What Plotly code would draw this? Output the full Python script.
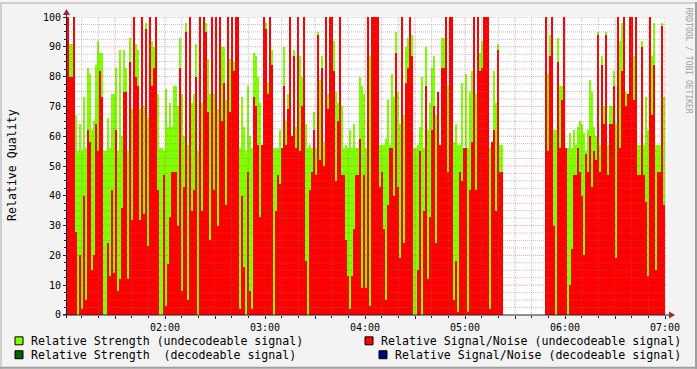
import plotly.graph_objects as go
import pandas as pd

# ---------------- data ----------------
# segment 1: 01:01:12 .. 05:22:48, one value per 72 s
green1 = [64, 91, 91, 100, 67, 55, 64, 55, 73, 56, 83, 81, 62, 65, 84, 92, 88, 88, 55, 55,
          66, 56, 74, 74, 83, 55, 89, 60, 89, 83, 55, 93, 69, 100, 91, 89, 69, 100, 70, 98,
          66, 100, 92, 90, 100, 74, 56, 56, 55, 76, 63, 71, 63, 77, 77, 70, 93, 74, 60, 98,
          57, 100, 71, 74, 91, 55, 100, 71, 100, 98, 86, 74, 100, 74, 100, 69, 100, 90, 90, 72,
          100, 86, 100, 85, 100, 100, 56, 73, 63, 55, 77, 60, 56, 88, 87, 80, 71, 57, 57, 98,
          78, 100, 89, 56, 56, 56, 62, 56, 90, 65, 74, 100, 60, 89, 63, 100, 87, 80, 100, 64,
          56, 57, 56, 68, 56, 95, 79, 87, 58, 77, 74, 100, 100, 92, 75, 71, 100, 70, 56, 57,
          56, 62, 56, 64, 56, 56, 80, 77, 74, 56, 100, 87, 100, 93, 100, 100, 57, 57, 57, 59,
          72, 57, 81, 73, 95, 75, 64, 100, 67, 90, 93, 100, 94, 56, 56, 57, 63, 80, 56, 90,
          62, 71, 83, 87, 67, 75, 56, 93, 93, 100, 77, 100, 100, 58, 64, 57, 57, 78, 56, 81,
          56, 75, 82, 100, 74, 100, 88, 92, 100, 100, 100, 56, 56, 82, 71, 91, 57, 57]
red1 = [100, 80, 80, 100, 28, 0, 20, 2, 40, 5, 62, 58, 15, 20, 64, 55, 82, 73, 0, 0,
        24, 13, 42, 14, 62, 8, 12, 36, 75, 75, 12, 85, 32, 100, 80, 77, 32, 100, 34, 96,
        23, 100, 77, 83, 100, 42, 0, 0, 47, 3, 17, 33, 48, 48, 48, 30, 83, 8, 43, 95,
        5, 100, 35, 42, 80, 0, 100, 35, 100, 95, 68, 25, 100, 42, 100, 30, 100, 65, 78, 37,
        100, 68, 100, 82, 100, 100, 2, 40, 16, 0, 48, 8, 2, 73, 70, 57, 33, 57, 100, 96,
        74, 100, 84, 0, 35, 47, 44, 56, 77, 57, 69, 100, 60, 87, 56, 100, 55, 70, 100, 18,
        0, 42, 48, 62, 47, 94, 52, 83, 50, 100, 69, 100, 100, 82, 45, 65, 100, 47, 47, 25,
        13, 2, 13, 29, 47, 47, 59, 9, 47, 9, 100, 3, 100, 100, 100, 100, 43, 48, 29, 5,
        37, 56, 56, 40, 88, 43, 19, 100, 24, 78, 83, 100, 87, 0, 0, 15, 55, 0, 35, 77,
        12, 33, 62, 70, 24, 75, 57, 83, 83, 100, 48, 100, 100, 5, 18, 1, 48, 45, 56, 56,
        1, 42, 58, 100, 42, 100, 82, 83, 100, 100, 100, 2, 58, 62, 35, 89, 48, 48]

# segment 2: 05:48:00 .. 07:00:00, one value per 72 s
green2 = [100, 81, 94, 100, 62, 62, 93, 77, 77, 100, 56, 56, 61, 56, 62, 57, 63, 65, 64, 61,
          55, 62, 79, 75, 63, 60, 95, 57, 87, 70, 95, 57, 70, 70, 82, 64, 100, 92, 98, 100,
          75, 74, 100, 100, 87, 100, 57, 57, 92, 57, 73, 62, 100, 87, 98, 57, 57, 57, 98, 73]
red2 = [100, 55, 87, 100, 30, 0, 85, 56, 72, 100, 56, 0, 10, 22, 47, 47, 56, 48, 40, 20,
        54, 48, 60, 43, 55, 52, 94, 48, 84, 64, 94, 47, 64, 64, 77, 19, 100, 56, 82, 100,
        70, 74, 100, 100, 72, 100, 47, 47, 90, 47, 38, 13, 100, 67, 84, 15, 48, 48, 97, 37]

y_ticks = list(range(0, 101, 10))
x_labels = ["02:00", "03:00", "04:00", "05:00", "06:00", "07:00"]

legend_items = [
    ("Relative Strength (undecodeable signal)", "#80FF00"),
    ("Relative Strength\u00a0 (decodeable signal)", "#006400"),
    ("Relative Signal/Noise (undecodeable signal)", "#FF0000"),
    ("Relative Signal/Noise (decodeable signal)", "#000080"),
]

# ---------------- build ----------------
day = "2024-01-01 "
step = pd.Timedelta(seconds=72)
start1 = pd.Timestamp(day + "01:01:12")
start2 = pd.Timestamp(day + "05:48:00")
t = [start1 + i * step for i in range(len(green1))] + \
    [start2 + i * step for i in range(len(green2))]
green = green1 + green2
red = red1 + red2

x_start = pd.Timestamp(day + "01:01:12")
x_end = pd.Timestamp(day + "07:01:12")

W, H = 697, 369
L, R, T, B = 67, 30, 15, 54
PW, PH = W - L - R, H - T - B


def px(X):
    return (X - L) / PW


def py(Y):
    return (H - B - Y) / PH


MONO = "DejaVu Sans Mono"

fig = go.Figure()
fig.add_trace(go.Bar(x=t, y=green, width=72000, offset=0,
                     marker=dict(color="#80FF00", line=dict(width=0)),
                     showlegend=False, hoverinfo="skip"))
fig.add_trace(go.Bar(x=t, y=red, width=72000, offset=0,
                     marker=dict(color="#FF0000", line=dict(width=0)),
                     showlegend=False, hoverinfo="skip"))

shapes = []
minor_c = "rgba(120,120,120,0.45)"
major_c = "rgba(210,50,50,0.45)"
# horizontal grid
for k in range(1, 41):
    v = k * 2.5
    shapes.append(dict(type="line", xref="paper", yref="y", x0=0, x1=1, y0=v, y1=v,
                       line=dict(color=major_c if k % 4 == 0 else minor_c, width=1, dash="1px,1px"),
                       layer="above"))
# vertical grid
g = pd.Timestamp(day + "01:10")
while g <= x_end:
    major = g.minute % 30 == 0
    shapes.append(dict(type="line", xref="x", yref="y", x0=g, x1=g, y0=0, y1=100,
                       line=dict(color=major_c if major else minor_c, width=1, dash="1px,1px"),
                       layer="above"))
    g += pd.Timedelta(minutes=10)

AX = "#202030"
ARROW = "#9B2C2C"
# axes lines
shapes.append(dict(type="line", xref="paper", yref="paper", x0=px(63), x1=px(670), y0=0, y1=0,
                   line=dict(color=AX, width=1), layer="above"))
shapes.append(dict(type="line", xref="paper", yref="paper", x0=px(66.5), x1=px(66.5), y0=py(318), y1=py(12),
                   line=dict(color=AX, width=1), layer="above"))
# arrows
shapes.append(dict(type="path", xref="paper", yref="paper",
                   path=f"M {px(669)},{py(311.5)} L {px(675)},{py(315)} L {px(669)},{py(318.5)} Z",
                   fillcolor=ARROW, line=dict(width=0), layer="above"))
shapes.append(dict(type="path", xref="paper", yref="paper",
                   path=f"M {px(63)},{py(13)} L {px(66.5)},{py(7)} L {px(70)},{py(13)} Z",
                   fillcolor=ARROW, line=dict(width=0), layer="above"))
# frame (bevel)
shapes.append(dict(type="rect", xref="paper", yref="paper", x0=px(0), x1=px(W), y0=py(0), y1=py(2),
                   fillcolor="#CFCFCF", line=dict(width=0), layer="above"))
shapes.append(dict(type="rect", xref="paper", yref="paper", x0=px(0), x1=px(2), y0=py(0), y1=py(H),
                   fillcolor="#CFCFCF", line=dict(width=0), layer="above"))
shapes.append(dict(type="rect", xref="paper", yref="paper", x0=px(0), x1=px(W), y0=py(H - 2), y1=py(H),
                   fillcolor="#9E9E9E", line=dict(width=0), layer="above"))
shapes.append(dict(type="rect", xref="paper", yref="paper", x0=px(W - 2), x1=px(W), y0=py(0), y1=py(H),
                   fillcolor="#9E9E9E", line=dict(width=0), layer="above"))

annotations = []
# legend
leg_pos = [(15, 341), (15, 355), (365, 341), (379, 355)]
for (label, col), (X, Yc) in zip(legend_items, leg_pos):
    shapes.append(dict(type="rect", xref="paper", yref="paper",
                       x0=px(X), x1=px(X + 8), y0=py(Yc - 4), y1=py(Yc + 4),
                       fillcolor=col, line=dict(color="#000000", width=1), layer="above"))
    annotations.append(dict(text=label, xref="paper", yref="paper", x=px(X + 15), y=py(Yc),
                            xanchor="left", yanchor="middle", showarrow=False, borderpad=0,
                            font=dict(family=MONO, size=11.6, color="#000000")))
# y title
annotations.append(dict(text="Relative Quality", xref="paper", yref="paper", x=px(12), y=py(164),
                        xanchor="center", yanchor="middle", textangle=-90, showarrow=False,
                        font=dict(family=MONO, size=11.6, color="#000000")))
# watermark
annotations.append(dict(text="RRDTOOL / TOBI OETIKER", xref="paper", yref="paper", x=px(688), y=py(59),
                        xanchor="center", yanchor="middle", textangle=90, showarrow=False,
                        font=dict(family=MONO, size=8, color="#A0A0A0")))

tickvals = []
ticktext = []
hv = pd.Timestamp(day + "01:30")
while hv <= x_end:
    tickvals.append(hv)
    ticktext.append(hv.strftime("%H:%M") if hv.minute == 0 and hv.strftime("%H:%M") in x_labels else "")
    hv += pd.Timedelta(minutes=30)

fig.update_layout(
    width=W, height=H,
    margin=dict(l=L, r=R, t=T, b=B, pad=0),
    paper_bgcolor="#F3F3F3", plot_bgcolor="#FFFFFF",
    barmode="overlay", bargap=0,
    showlegend=False,
    shapes=shapes, annotations=annotations,
    xaxis=dict(type="date", range=[x_start, x_end], showgrid=False, zeroline=False, showline=False,
               tickmode="array", tickvals=tickvals, ticktext=ticktext,
               ticks="outside", ticklen=3, tickcolor=AX, tickwidth=1,
               minor=dict(ticks="outside", ticklen=2, tickcolor=AX, dtick=600000,
                          tick0=day + "01:00", showgrid=False),
               tickfont=dict(family=MONO, size=10, color="#000000"),
               layer="above traces", fixedrange=True),
    yaxis=dict(range=[-0.01, 100.01], showgrid=False, zeroline=False, showline=False,
               tickmode="array", tickvals=y_ticks,
               ticks="outside", ticklen=3, tickcolor=AX, tickwidth=1,
               minor=dict(ticks="outside", ticklen=2, tickcolor=AX, dtick=2.5, tick0=0, showgrid=False),
               tickfont=dict(family=MONO, size=10, color="#000000"),
               layer="above traces", fixedrange=True),
)

fig.write_html("out.html")
